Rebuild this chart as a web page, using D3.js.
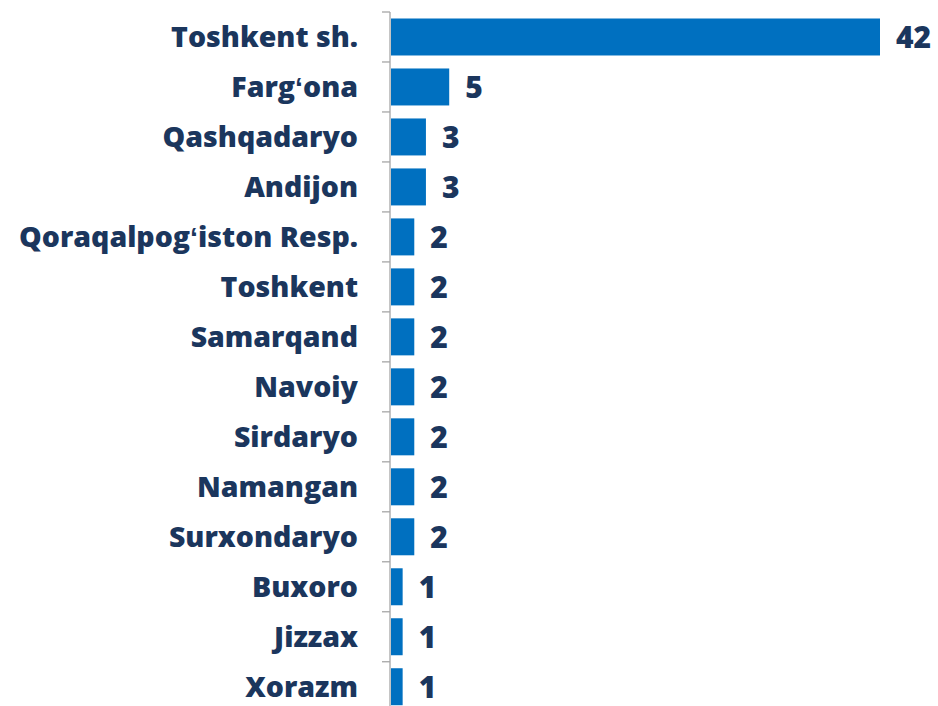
<!DOCTYPE html>
<html>
<head>
  <meta charset="utf-8">
  <script src="https://cdn.jsdelivr.net/npm/d3@7"></script>
  <style>
    body { margin: 0; background: #fff; }
  </style>
</head>
<body>
<div id="viz"></div>
<script>
// regions, top to bottom
var regions = ["Toshkent sh.", "Farg\u02BBona", "Qashqadaryo", "Andijon", "Qoraqalpog\u02BBiston Resp.",
  "Toshkent", "Samarqand", "Navoiy", "Sirdaryo", "Namangan", "Surxondaryo",
  "Buxoro", "Jizzax", "Xorazm"];
var counts = [42, 5, 3, 3, 2, 2, 2, 2, 2, 2, 2, 1, 1, 1];

var W = 938, H = 706;
var axisX = 390, plotTop = 12, step = 49.98;

var svg = d3.select("#viz").append("svg")
    .attr("width", W)
    .attr("height", H);

var y = d3.scaleBand()
    .domain(regions)
    .range([plotTop, plotTop + step * regions.length])
    .paddingInner(0.26)
    .paddingOuter(0.13);

var x = d3.scaleLinear()
    .domain([0, 42])
    .range([axisX + 1, 880]);

// axis line + ticks between categories
var g = svg.append("g");
g.append("line")
    .attr("x1", axisX).attr("x2", axisX)
    .attr("y1", plotTop).attr("y2", plotTop + step * regions.length)
    .attr("stroke", "#a6a6a6").attr("stroke-width", 1.3);
g.selectAll(".tk")
    .data(d3.range(regions.length + 1))
    .enter().append("line")
    .attr("x1", axisX - 8).attr("x2", axisX)
    .attr("y1", function(i){ return plotTop + i * step; })
    .attr("y2", function(i){ return plotTop + i * step; })
    .attr("stroke", "#a6a6a6").attr("stroke-width", 1.3);

// bars
svg.selectAll(".bar")
    .data(regions)
    .enter().append("rect")
    .attr("x", x(0))
    .attr("y", function(d){ return y(d); })
    .attr("width", function(d, i){ return x(counts[i]) - x(0); })
    .attr("height", y.bandwidth())
    .attr("fill", "#0070c0");

// category labels
svg.selectAll(".lbl")
    .data(regions)
    .enter().append("text")
    .attr("x", 358)
    .attr("y", function(d){ return y(d) + y.bandwidth() / 2; })
    .attr("dy", "0.35em")
    .attr("text-anchor", "end")
    .style("font-family", "'Open Sans', sans-serif")
    .style("font-weight", "800")
    .style("font-size", "28.5px")
    .style("fill", "#1b365d")
    .text(function(d){ return d; });

// value labels
svg.selectAll(".val")
    .data(regions)
    .enter().append("text")
    .attr("x", function(d, i){ return x(counts[i]) + 16; })
    .attr("y", function(d){ return y(d) + y.bandwidth() / 2; })
    .attr("dy", "0.36em")
    .style("font-family", "'Open Sans', sans-serif")
    .style("font-weight", "800")
    .style("font-size", "30px")
    .style("fill", "#1b365d")
    .text(function(d, i){ return counts[i]; });
</script>
</body>
</html>
